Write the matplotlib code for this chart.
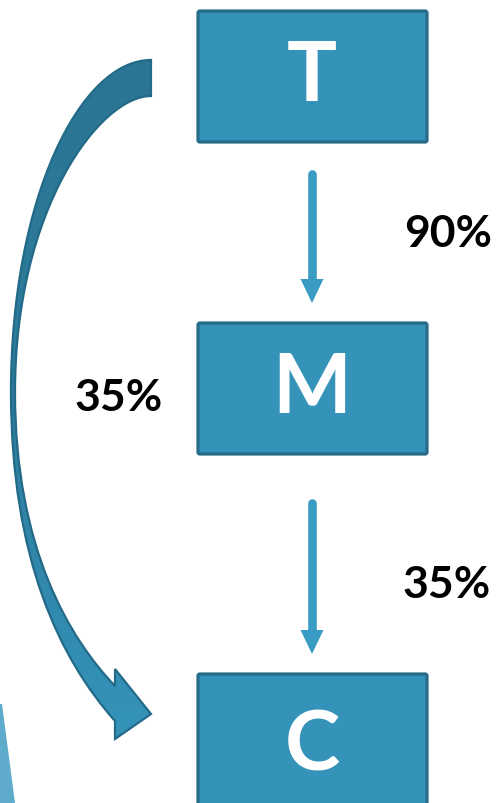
import numpy as np
import matplotlib.pyplot as plt
from matplotlib.patches import FancyBboxPatch, Polygon, PathPatch
from matplotlib.path import Path

# boites : libelle, haut, bas
labels = ['T', 'M', 'C']
box_top = [12, 324, 675]
box_bottom = [143, 455, 820]
box_left, box_right = 198, 427

# fleches droites (x, debut, pointe)
arrow_x = 312
arrow_start = [175, 504]
arrow_tip = [304, 655]

# pourcentages
pct_text = ['90%', '35%', '35%']
pct_x = [448, 119, 447]
pct_y = [234, 398, 585]

box_fill = '#3593ba'
box_edge = '#276b89'
arrow_col = '#3a9cc4'

fig = plt.figure(figsize=(5.0, 8.04), dpi=100)
ax = fig.add_axes([0, 0, 1, 1])
ax.set_xlim(0, 500)
ax.set_ylim(804, 0)
ax.axis('off')

# petit bout decoratif en bas a gauche
ax.add_patch(Polygon([(0, 705), (2, 705), (15, 804), (0, 804)],
                     closed=True, facecolor='#5eabcb', edgecolor='none'))

# boites
for lab, t, b in zip(labels, box_top, box_bottom):
    ax.add_patch(FancyBboxPatch((box_left, t), box_right - box_left, b - t,
                                boxstyle='round,pad=0,rounding_size=2',
                                facecolor=box_fill, edgecolor=box_edge,
                                linewidth=2.3))
    yc = (t + min(b, 804)) / 2 + (8 if lab == 'C' else 0)
    ax.text(arrow_x, yc, lab, color='white', fontsize=60, family='Lato',
            fontweight='bold', ha='center', va='center')

# fleches droites : trait epais + tete triangulaire
for y0, y1 in zip(arrow_start, arrow_tip):
    ax.plot([arrow_x, arrow_x], [y0, y1 - 20], color=arrow_col,
            linewidth=6.2, solid_capstyle='round')
    ax.add_patch(Polygon([(arrow_x - 11.5, y1 - 24), (arrow_x + 11.5, y1 - 24),
                          (arrow_x, y1)], closed=True,
                         facecolor=arrow_col, edgecolor='none'))

for s, x, y in zip(pct_text, pct_x, pct_y):
    ax.text(x, y, s, fontsize=32, fontweight='bold', family='Lato',
            ha='center', va='center', color='black')

# fleche courbe (bord exterieur puis tete puis bord interieur)
verts = [(151, 61),
         (80, 61), (11, 200), (11, 393),
         (11, 560), (60, 660), (115, 722),
         (115, 740), (151, 715), (115, 670), (115, 687),
         (70, 640), (15, 550), (15, 393),
         (15, 210), (100, 97), (151, 97),
         (151, 61)]
codes = ([Path.MOVETO] + [Path.CURVE4] * 6 + [Path.LINETO] * 4
         + [Path.CURVE4] * 6 + [Path.CLOSEPOLY])
path = Path(verts, codes)
patch = PathPatch(path, facecolor='none', edgecolor='#236a88', linewidth=1.6,
                  zorder=3)
ax.add_patch(patch)

grad = np.linspace(0, 1, 256).reshape(-1, 1)
cmap = plt.matplotlib.colors.LinearSegmentedColormap.from_list(
    'g', ['#2a7593', '#2d7d9c', '#3593ba'])
im = ax.imshow(grad, cmap=cmap, extent=[0, 160, 740, 55], aspect='auto',
               zorder=2)
im.set_clip_path(patch)
ax.set_xlim(0, 500)
ax.set_ylim(804, 0)

fig.savefig('out.png', dpi=100)
